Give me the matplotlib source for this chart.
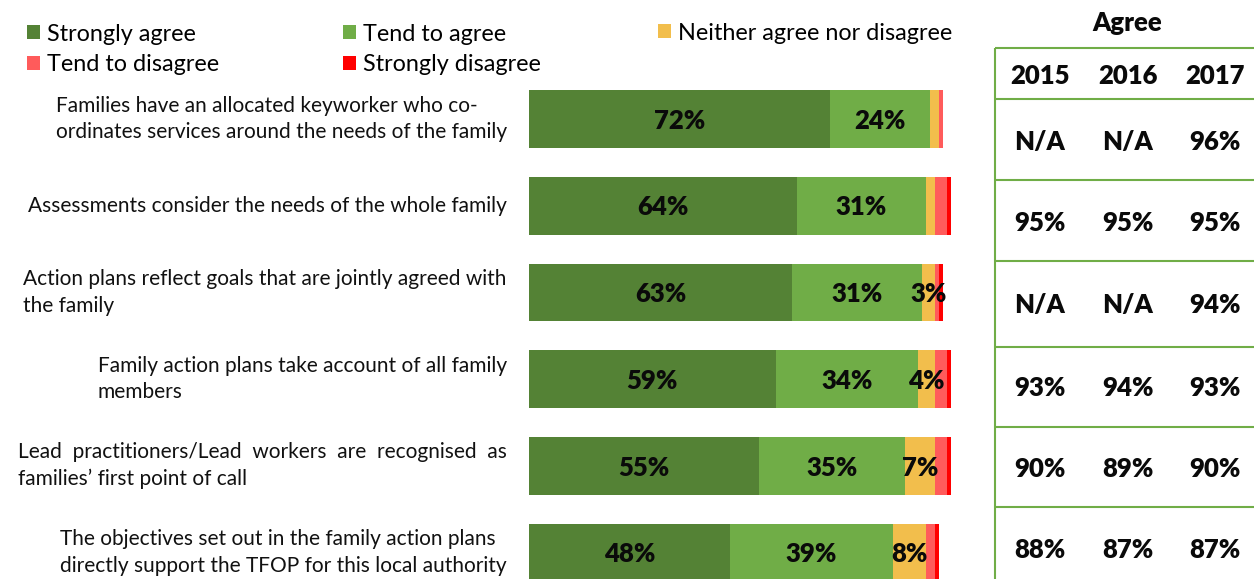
import matplotlib.pyplot as plt
from matplotlib.patches import Patch

plt.rcParams['font.family'] = ['Lato', 'DejaVu Sans']

# Survey statements and response shares (%)
statements = [
    "Families have an allocated keyworker who co-\nordinates services around the needs of the family",
    "Assessments consider the needs of the whole family",
    "Action plans reflect goals that are jointly agreed with\nthe family",
    "Family action plans take account of all family\nmembers",
    "Lead  practitioners/Lead  workers  are  recognised  as\nfamilies\u2019 first point of call",
    "The objectives set out in the family action plans\ndirectly support the TFOP for this local authority",
]
strongly_agree = [72, 64, 63, 59, 55, 48]
tend_to_agree = [24, 31, 31, 34, 35, 39]
neither = [2, 2, 3, 4, 7, 8]
tend_to_disagree = [1, 3, 1, 3, 3, 2]
strongly_disagree = [0, 1, 1, 1, 1, 1]

# Total agree by year
years = ['2015', '2016', '2017']
agree_2015 = ['N/A', '95%', 'N/A', '93%', '90%', '88%']
agree_2016 = ['N/A', '95%', 'N/A', '94%', '89%', '87%']
agree_2017 = ['96%', '95%', '94%', '93%', '90%', '87%']

series = [
    ('Strongly agree', strongly_agree, '#548235', True),
    ('Tend to agree', tend_to_agree, '#70AD47', True),
    ('Neither agree nor disagree', neither, '#F2BE4C', True),
    ('Tend to disagree', tend_to_disagree, '#FF5B5B', False),
    ('Strongly disagree', strongly_disagree, '#FF0000', False),
]

W, H = 1254, 579
# bold numbers
NUM = dict(fontsize=18.5, fontweight='heavy', color='#0a0a0a')
fig = plt.figure(figsize=(W / 100, H / 100), dpi=100)

# overlay in pixel units for the side table
tax = fig.add_axes([0, 0, 1, 1])
tax.set_xlim(0, W)
tax.set_ylim(H, 0)
tax.axis('off')

ax = fig.add_axes([529 / W, 0, 439 / W, 1])
ax.set_xlim(0, 105)
ax.set_ylim(5.306, -1.3725)
ax.axis('off')

rows = list(range(len(statements)))
left = [0] * len(rows)
for name, vals, color, labelled in series:
    ax.barh(rows, vals, left=left, height=0.665, color=color, label=name)
    if labelled:
        for i, v in enumerate(vals):
            if v >= 3:
                ax.text(left[i] + v / 2, i + 0.02, f'{v}%', ha='center', va='center', **NUM)
    left = [l + v for l, v in zip(left, vals)]

for i, s in enumerate(statements):
    ax.text(-5.3, i, s, ha='right', va='center', multialignment='left',
            fontsize=15, color='#111111', linespacing=1.42)

# legend, one block per column
handles = [Patch(facecolor=c, edgecolor='none') for _, _, c, _ in series]
names = [n for n, _, _, _ in series]
columns = [([0, 3], 27, 49.5), ([1, 4], 343, 49.5), ([2], 658, 33)]
for idx, x, y in columns:
    fig.legend([handles[k] for k in idx], [names[k] for k in idx],
               loc='center left', bbox_to_anchor=(x / W, 1 - y / H),
               frameon=False, fontsize=16.8, handlelength=0.55, handleheight=0.55,
               handletextpad=0.3, labelspacing=0.42, borderpad=0, borderaxespad=0)

# table of agree totals
line_col = '#70AD47'
hlines = [47.7, 99.3, 180.3, 261, 346.7, 426.7, 506.7]
tax.vlines(995, 47.7, H, color=line_col, lw=1.5)
tax.hlines(hlines, 995, W, color=line_col, lw=1.5)
col_x = [1040, 1128, 1215]
tax.text(1127, 23, 'Agree', ha='center', va='center', **NUM)
for x, yr in zip(col_x, years):
    tax.text(x, 76, yr, ha='center', va='center', **NUM)
row_y = [142, 223, 305, 388, 469, 550]
for x, col in zip(col_x, [agree_2015, agree_2016, agree_2017]):
    for y, v in zip(row_y, col):
        tax.text(x, y, v, ha='center', va='center', **NUM)

fig.savefig('out.png', dpi=100)
